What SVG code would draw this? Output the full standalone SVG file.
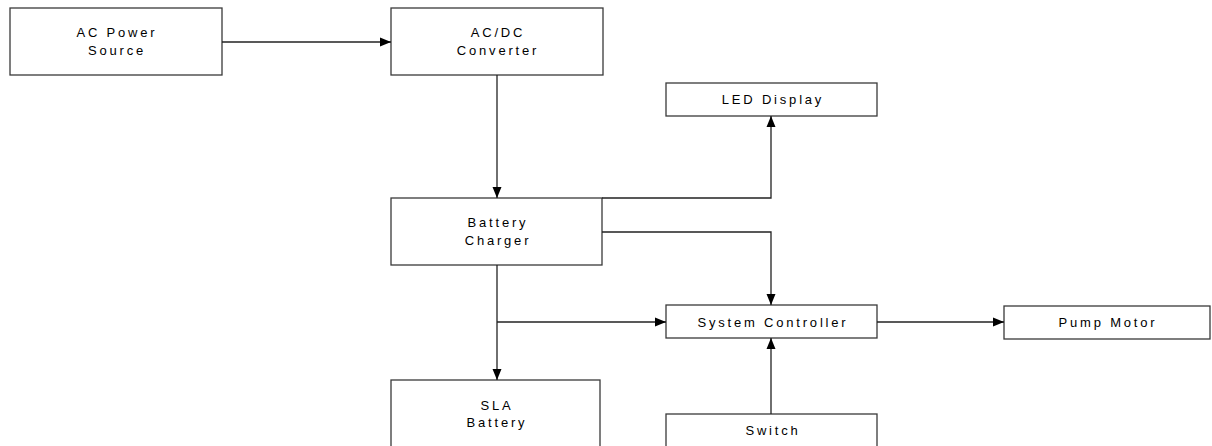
<svg xmlns="http://www.w3.org/2000/svg" width="1212" height="446" viewBox="0 0 1212 446">
<style>
.box{fill:#fff;stroke:#3a3a3a;stroke-width:1.3}
.t{font-family:"Liberation Sans",Arial,sans-serif;font-size:13px;letter-spacing:2.8px;fill:#000;text-anchor:middle}
.c{fill:none;stroke:#222;stroke-width:1.3}
</style>
<defs>
<marker id="a" viewBox="0 0 11 10" refX="11" refY="5" markerWidth="11" markerHeight="10" markerUnits="userSpaceOnUse" orient="auto">
<path d="M0,0.5 L11,5 L0,9.5 Z" fill="#000"/>
</marker>
</defs>
<g id="ac-power"><rect class="box" x="10" y="8" width="212" height="67"/><text class="t" x="117" y="37">AC Power</text><text class="t" x="117" y="55">Source</text></g>
<g id="acdc"><rect class="box" x="391" y="8" width="212" height="67"/><text class="t" x="498" y="37">AC/DC</text><text class="t" x="498" y="55">Converter</text></g>
<g id="led"><rect class="box" x="666" y="83" width="211" height="33"/><text class="t" x="773" y="104">LED Display</text></g>
<g id="charger"><rect class="box" x="391" y="198" width="211" height="67"/><text class="t" x="498" y="227">Battery</text><text class="t" x="498" y="245">Charger</text></g>
<g id="sla"><rect class="box" x="391" y="380" width="209" height="80"/><text class="t" x="497" y="410">SLA</text><text class="t" x="497" y="427">Battery</text></g>
<g id="controller"><rect class="box" x="666" y="305" width="211" height="33"/><text class="t" x="773" y="327">System Controller</text></g>
<g id="switch"><rect class="box" x="666" y="414" width="211" height="50"/><text class="t" x="773" y="435">Switch</text></g>
<g id="pump"><rect class="box" x="1004" y="306" width="206" height="33"/><text class="t" x="1108" y="327">Pump Motor</text></g>
<g id="connectors">
<path class="c" d="M222,42 H391" marker-end="url(#a)"/>
<path class="c" d="M497,75 V198" marker-end="url(#a)"/>
<path class="c" d="M602,198 H771 V116" marker-end="url(#a)"/>
<path class="c" d="M602,232 H771 V305" marker-end="url(#a)"/>
<path class="c" d="M497,265 V380" marker-end="url(#a)"/>
<path class="c" d="M497,322 H666" marker-end="url(#a)"/>
<path class="c" d="M877,322 H1004" marker-end="url(#a)"/>
<path class="c" d="M771,414 V338" marker-end="url(#a)"/>
</g>
</svg>
